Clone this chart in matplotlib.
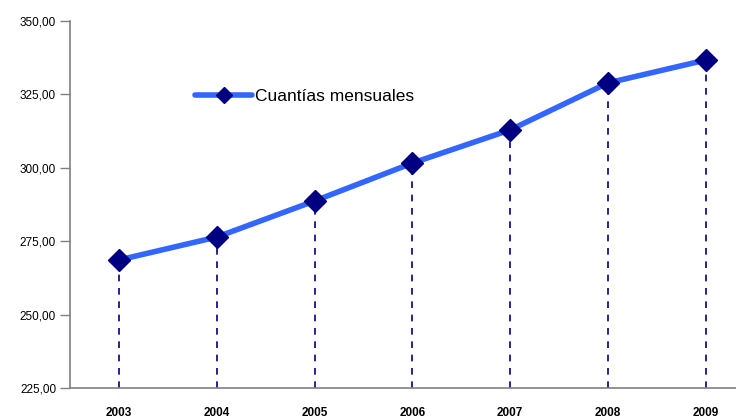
import matplotlib
matplotlib.use("Agg")
import matplotlib.pyplot as plt

years = ["2003", "2004", "2005", "2006", "2007", "2008", "2009"]
values = [268.6, 276.4, 288.7, 301.6, 312.9, 328.9, 336.7]
yticks = [225, 250, 275, 300, 325, 350]
ytick_labels = ["225,00", "250,00", "275,00", "300,00", "325,00", "350,00"]

plt.rcParams["font.family"] = ["Liberation Sans", "DejaVu Sans"]

fig = plt.figure(figsize=(7.36, 4.19), dpi=100)
ax = fig.add_axes([70 / 736, 1 - 388 / 419, 684.6 / 736, (388 - 21) / 419])

x = list(range(len(years)))
ax.vlines(x, 225, values, colors="#000080", linestyles=(0, (4, 4)), linewidth=1.2, zorder=2)
ax.plot(x, values, color="#3366FF", linewidth=4, marker="D", markersize=11.5,
        markerfacecolor="#000080", markeredgecolor="#000080", zorder=3,
        label="Cuantías mensuales", solid_capstyle="round")

ax.set_ylim(225, 350)
ax.set_xlim(-0.5, 6.5)
ax.set_yticks(yticks)
ax.set_yticklabels(ytick_labels, fontsize=8.5)
ax.set_xticks(x)
ax.set_xticklabels(years, fontsize=8.5, fontweight="bold")
ax.tick_params(axis="x", length=0, pad=14)
ax.tick_params(axis="y", length=7, width=1, color="#808080", pad=3)

for s in ["top", "right"]:
    ax.spines[s].set_visible(False)
ax.spines["left"].set_color("#808080")
ax.spines["bottom"].set_color("#808080")
ax.spines["left"].set_linewidth(1.2)
ax.spines["bottom"].set_linewidth(1.2)

leg = ax.legend(loc="upper left", bbox_to_anchor=(0.16, 0.858), frameon=False,
                fontsize=12.5, handlelength=3.3, handletextpad=0.15, markerscale=0.75)

fig.savefig("out.png", dpi=100)
